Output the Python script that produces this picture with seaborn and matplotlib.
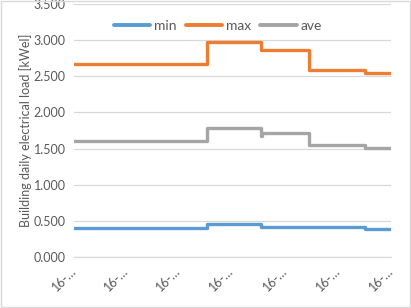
import pandas as pd
import matplotlib.pyplot as plt
import seaborn as sns
from matplotlib.patches import Rectangle
from matplotlib.lines import Line2D

# step change dates and the value held from each date on
change_dates = ['2016-01-16', '2016-06-18', '2016-08-19', '2016-08-20',
                '2016-10-14', '2016-12-17', '2017-01-16']
min_vals = [0.395, 0.45, 0.417, 0.417, 0.417, 0.38, 0.38]
max_vals = [2.665, 2.98, 2.86, 2.86, 2.58, 2.54, 2.54]
ave_vals = [1.60, 1.78, 1.67, 1.715, 1.55, 1.51, 1.51]

series_names = ['min', 'max', 'ave']
series_colors = ['#5B9BD5', '#ED7D31', '#A5A5A5']

tick_dates = ['2016-01-16', '2016-03-16', '2016-05-16', '2016-07-16',
              '2016-09-16', '2016-11-16', '2017-01-16']
tick_labels = ['16-\u2026'] * len(tick_dates)
y_ticks = [0, 0.5, 1.0, 1.5, 2.0, 2.5, 3.0, 3.5]

text_col = '#595959'
grid_col = '#D9D9D9'


def build_frame():
    """Long table of the three step series."""
    dates = pd.to_datetime(change_dates)
    parts = []
    for name, vals in zip(series_names, [min_vals, max_vals, ave_vals]):
        parts.append(pd.DataFrame({'date': dates, 'load': vals, 'series': name}))
    return pd.concat(parts, ignore_index=True)


def plot_load(df):
    sns.set_style('white')
    plt.rcParams['font.family'] = ['Lato', 'DejaVu Sans']
    fig = plt.figure(figsize=(4.11, 3.08), dpi=100)
    ax = fig.add_axes([0.18, 0.166, 0.771, 0.821])

    sns.lineplot(data=df, x='date', y='load', hue='series',
                 palette=dict(zip(series_names, series_colors)),
                 drawstyle='steps-post', linewidth=2.4, legend=False,
                 estimator=None, ax=ax)

    ax.set_ylim(0, 3.5)
    ax.set_xlim(pd.Timestamp(tick_dates[0]), pd.Timestamp(tick_dates[-1]))
    ax.set_yticks(y_ticks)
    ax.set_yticklabels([f'{v:.3f}' for v in y_ticks])
    ax.yaxis.grid(True, color=grid_col, linewidth=0.9)
    ax.set_axisbelow(True)

    ax.set_xticks(pd.to_datetime(tick_dates))
    ax.set_xticklabels(tick_labels, rotation=45, ha='right', va='center',
                       rotation_mode='anchor')

    for s in ['left', 'right', 'top']:
        ax.spines[s].set_visible(False)
    ax.spines['bottom'].set_color(grid_col)
    ax.spines['bottom'].set_linewidth(0.9)
    ax.tick_params(axis='x', colors=grid_col, direction='out', length=4,
                   width=0.9, labelcolor=text_col, labelsize=9, pad=5)
    ax.tick_params(axis='y', length=0, labelcolor=text_col, labelsize=9, pad=6)

    ax.set_xlabel('')
    ax.set_ylabel('Building daily electrical load [kWel]', color=text_col,
                  fontsize=9)
    ax.yaxis.set_label_coords(-0.132, 0.5)

    handles = [Line2D([], [], color=c, linewidth=2.8) for c in series_colors]
    ax.legend(handles, series_names, loc='upper center',
              bbox_to_anchor=(0.455, 0.985), ncol=3, frameon=False,
              fontsize=10, labelcolor=text_col, handlelength=2.6,
              handletextpad=0.3, columnspacing=0.65)

    fig.patches.append(Rectangle((0.002, 0.003), 0.995, 0.994,
                                 transform=fig.transFigure, fill=False,
                                 edgecolor=grid_col, linewidth=1))
    fig.savefig('out.png', dpi=100)


if __name__ == "__main__":
    df = build_frame()
    plot_load(df)
